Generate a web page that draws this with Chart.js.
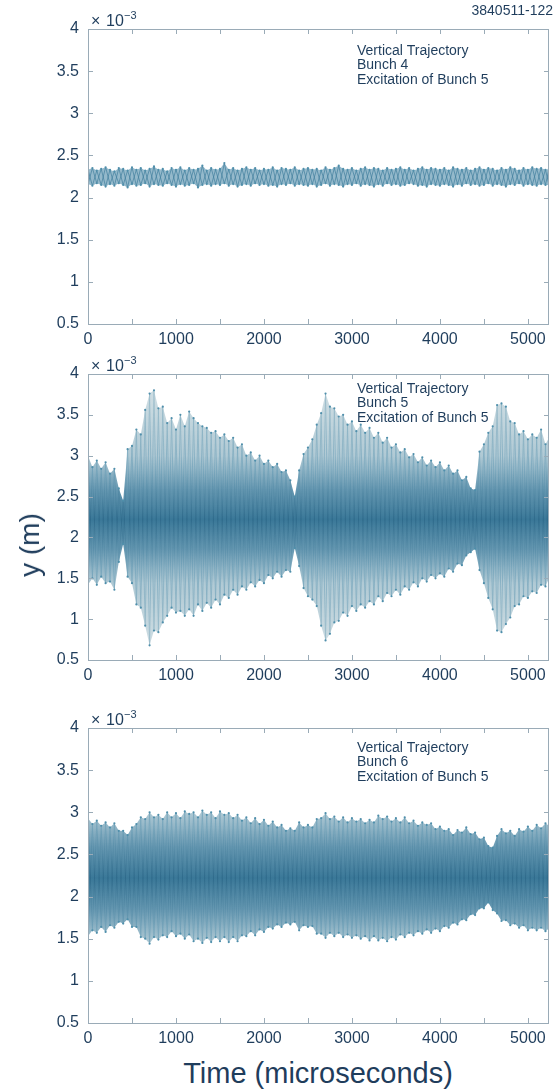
<!DOCTYPE html>
<html>
<head>
<meta charset="utf-8">
<script src="https://cdn.jsdelivr.net/npm/chart.js@4.4.1/dist/chart.umd.min.js"></script>
<style>
  html, body { margin: 0; padding: 0; background: #fff; }
  #page { position: relative; width: 557px; height: 1090px; overflow: hidden; font-family: "Liberation Sans", Arial, sans-serif; color: #1f3d5c; }
  canvas { position: absolute; left: 0; }
  .lbl { position: absolute; white-space: nowrap; z-index: 2; }
</style>
</head>
<body>
<div id="page">
  <canvas id="panel1" width="557" height="345" style="top:9px"></canvas>
  <canvas id="panel2" width="557" height="336" style="top:354px"></canvas>
  <canvas id="panel3" width="557" height="345" style="top:708px"></canvas>
  <div class="lbl" style="right:4px; top:2px; font-size:14px;">3840511-122</div>
  <div class="lbl" style="left:30px; top:545px; font-size:28px; transform:translate(-50%,-50%) rotate(-90deg);">y (m)</div>
  <div class="lbl" style="left:318px; top:1073px; font-size:29px; transform:translate(-50%,-50%);">Time (microseconds)</div>
</div>
<script>
// sample times (microseconds)
const TIME = [
  0, 50, 100, 150, 200, 250, 300, 350, 400, 450,
  500, 550, 600, 650, 700, 750, 800, 850, 900, 950,
  1000, 1050, 1100, 1150, 1200, 1250, 1300, 1350, 1400, 1450,
  1500, 1550, 1600, 1650, 1700, 1750, 1800, 1850, 1900, 1950,
  2000, 2050, 2100, 2150, 2200, 2250, 2300, 2350, 2400, 2450,
  2500, 2550, 2600, 2650, 2700, 2750, 2800, 2850, 2900, 2950,
  3000, 3050, 3100, 3150, 3200, 3250, 3300, 3350, 3400, 3450,
  3500, 3550, 3600, 3650, 3700, 3750, 3800, 3850, 3900, 3950,
  4000, 4050, 4100, 4150, 4200, 4250, 4300, 4350, 4400, 4450,
  4500, 4550, 4600, 4650, 4700, 4750, 4800, 4850, 4900, 4950,
  5000, 5050, 5100, 5150, 5200, 5240
];
const X_TICKS = [0, 1000, 2000, 3000, 4000, 5000];
const Y_TICKS = [0.5, 1, 1.5, 2, 2.5, 3, 3.5, 4];

// envelope of the trajectory, y in units of 1e-3 m
const BUNCH4_UPPER = [
  2.33, 2.35, 2.32, 2.34, 2.36, 2.33, 2.31, 2.35, 2.34, 2.32,
  2.36, 2.33, 2.35, 2.32, 2.34, 2.37, 2.33, 2.34, 2.31, 2.35,
  2.33, 2.36, 2.32, 2.35, 2.33, 2.34, 2.38, 2.32, 2.35, 2.33,
  2.34, 2.41, 2.33, 2.35, 2.32, 2.34, 2.36, 2.33, 2.35, 2.32,
  2.34, 2.33, 2.36, 2.32, 2.35, 2.34, 2.33, 2.36, 2.32, 2.34,
  2.35, 2.33, 2.34, 2.32, 2.36, 2.33, 2.35, 2.38, 2.34, 2.33,
  2.35, 2.32, 2.34, 2.36, 2.33, 2.35, 2.34, 2.32, 2.35, 2.33,
  2.34, 2.36, 2.33, 2.35, 2.32, 2.34, 2.36, 2.33, 2.35, 2.34,
  2.33, 2.35, 2.32, 2.36, 2.34, 2.33, 2.35, 2.32, 2.34, 2.36,
  2.33, 2.35, 2.34, 2.32, 2.35, 2.33, 2.36, 2.34, 2.32, 2.35,
  2.33, 2.36, 2.34, 2.35, 2.33, 2.34
];
const BUNCH4_LOWER = [
  2.16, 2.14, 2.17, 2.15, 2.13, 2.16, 2.14, 2.17, 2.15, 2.12,
  2.16, 2.14, 2.15, 2.17, 2.13, 2.16, 2.15, 2.14, 2.17, 2.15,
  2.13, 2.16, 2.14, 2.15, 2.17, 2.12, 2.15, 2.16, 2.14, 2.16,
  2.15, 2.17, 2.14, 2.16, 2.13, 2.15, 2.16, 2.14, 2.17, 2.15,
  2.16, 2.14, 2.15, 2.13, 2.16, 2.15, 2.17, 2.14, 2.16, 2.15,
  2.14, 2.16, 2.13, 2.15, 2.17, 2.14, 2.16, 2.15, 2.13, 2.16,
  2.15, 2.17, 2.14, 2.16, 2.15, 2.13, 2.16, 2.14, 2.17, 2.15,
  2.16, 2.14, 2.15, 2.17, 2.16, 2.14, 2.15, 2.13, 2.16, 2.15,
  2.14, 2.16, 2.15, 2.13, 2.16, 2.14, 2.17, 2.15, 2.16, 2.14,
  2.15, 2.17, 2.14, 2.16, 2.15, 2.13, 2.16, 2.15, 2.17, 2.14,
  2.16, 2.15, 2.14, 2.16, 2.15, 2.15
];

const BUNCH5_UPPER = [
  3.00, 2.86, 2.94, 2.84, 2.92, 2.78, 2.84, 2.60, 2.45, 3.08,
  3.12, 3.32, 3.26, 3.56, 3.76, 3.80, 3.58, 3.60, 3.40, 3.46,
  3.32, 3.50, 3.36, 3.54, 3.46, 3.40, 3.36, 3.34, 3.28, 3.30,
  3.22, 3.26, 3.18, 3.22, 3.10, 3.14, 3.00, 3.04, 2.94, 3.00,
  2.90, 2.94, 2.86, 2.90, 2.80, 2.82, 2.70, 2.50, 2.82, 3.02,
  3.10, 3.20, 3.38, 3.52, 3.76, 3.60, 3.58, 3.48, 3.50, 3.38,
  3.42, 3.30, 3.38, 3.28, 3.34, 3.22, 3.28, 3.16, 3.22, 3.10,
  3.14, 3.04, 3.08, 2.98, 3.02, 2.92, 2.98, 2.88, 2.94, 2.86,
  2.92, 2.82, 2.88, 2.78, 2.82, 2.70, 2.74, 2.60, 2.58, 3.05,
  3.14, 3.28, 3.36, 3.62, 3.64, 3.60, 3.42, 3.40, 3.26, 3.30,
  3.20, 3.26, 3.22, 3.32, 3.14, 3.22
];
const BUNCH5_LOWER = [
  1.42, 1.50, 1.42, 1.52, 1.44, 1.46, 1.36, 1.70, 1.92, 1.52,
  1.44, 1.18, 1.14, 0.92, 0.68, 0.86, 0.84, 0.96, 1.04, 1.14,
  1.08, 1.10, 1.04, 1.12, 1.04, 1.18, 1.10, 1.20, 1.14, 1.24,
  1.18, 1.30, 1.26, 1.36, 1.30, 1.40, 1.36, 1.45, 1.40, 1.48,
  1.44, 1.54, 1.50, 1.58, 1.52, 1.60, 1.58, 1.87, 1.65, 1.38,
  1.28, 1.24, 1.16, 0.92, 0.74, 0.82, 0.96, 0.98, 1.08, 1.04,
  1.16, 1.10, 1.18, 1.14, 1.22, 1.18, 1.28, 1.22, 1.32, 1.28,
  1.36, 1.30, 1.40, 1.36, 1.45, 1.40, 1.50, 1.46, 1.54, 1.50,
  1.56, 1.52, 1.62, 1.58, 1.68, 1.66, 1.78, 1.82, 1.86, 1.60,
  1.44, 1.26, 1.12, 0.86, 0.84, 0.94, 1.02, 1.16, 1.18, 1.28,
  1.26, 1.34, 1.32, 1.42, 1.40, 1.50
];

const BUNCH6_UPPER = [
  2.93, 2.86, 2.90, 2.84, 2.88, 2.82, 2.87, 2.78, 2.78, 2.73,
  2.82, 2.86, 2.94, 2.92, 3.00, 2.94, 2.97, 2.92, 3.00, 2.94,
  2.99, 2.93, 3.01, 2.98, 3.00, 2.94, 3.02, 2.97, 3.00, 2.93,
  3.01, 2.97, 2.99, 2.93, 2.97, 2.90, 2.94, 2.87, 2.93, 2.86,
  2.91, 2.84, 2.89, 2.82, 2.85, 2.78, 2.81, 2.78, 2.88, 2.82,
  2.85, 2.82, 2.92, 2.93, 2.99, 2.92, 2.95, 2.89, 2.94, 2.88,
  2.93, 2.89, 2.92, 2.87, 2.91, 2.88, 2.96, 2.92, 2.95, 2.89,
  2.93, 2.88, 2.94, 2.87, 2.90, 2.84, 2.88, 2.85, 2.87, 2.80,
  2.83, 2.78, 2.80, 2.73, 2.79, 2.76, 2.82, 2.74, 2.76, 2.68,
  2.70, 2.60, 2.58, 2.72, 2.80, 2.75, 2.78, 2.72, 2.80, 2.77,
  2.83, 2.78, 2.85, 2.81, 2.87, 2.84
];
const BUNCH6_LOWER = [
  1.53, 1.60, 1.57, 1.64, 1.58, 1.66, 1.63, 1.70, 1.68, 1.73,
  1.64, 1.64, 1.52, 1.50, 1.44, 1.52, 1.49, 1.54, 1.52, 1.59,
  1.53, 1.56, 1.50, 1.55, 1.47, 1.50, 1.45, 1.51, 1.46, 1.52,
  1.47, 1.52, 1.46, 1.52, 1.47, 1.54, 1.53, 1.59, 1.54, 1.61,
  1.58, 1.64, 1.62, 1.67, 1.64, 1.69, 1.67, 1.70, 1.60, 1.66,
  1.64, 1.65, 1.56, 1.56, 1.51, 1.57, 1.53, 1.57, 1.52, 1.55,
  1.51, 1.54, 1.50, 1.53, 1.48, 1.53, 1.48, 1.51, 1.47, 1.52,
  1.49, 1.55, 1.52, 1.57, 1.54, 1.59, 1.56, 1.61, 1.57, 1.62,
  1.59, 1.65, 1.63, 1.69, 1.67, 1.73, 1.72, 1.79, 1.78, 1.86,
  1.86, 1.93, 1.84, 1.80, 1.71, 1.72, 1.66, 1.68, 1.63, 1.66,
  1.60, 1.63, 1.60, 1.63, 1.59, 1.62
];

const X_MIN = 0;
const X_MAX = 5240;
const Y_MIN = 0.5;
const Y_MAX = 4;
const PANEL_TEXT = [
  ["Vertical Trajectory", "Bunch 4", "Excitation of Bunch 5"],
  ["Vertical Trajectory", "Bunch 5", "Excitation of Bunch 5"],
  ["Vertical Trajectory", "Bunch 6", "Excitation of Bunch 5"],
];

const TEXT_COLOR = "#1f3d5c";
const FRAME_COLOR = "#9aabb7";
const FONT = "'Liberation Sans', Arial, sans-serif";

function pts(values) {
  return TIME.map((t, i) => ({ x: t, y: values[i] }));
}

// alternate between the read upper / lower values
function zigzag(upper, lower, phase) {
  return TIME.map((t, i) => ({ x: t, y: (i + phase) % 2 === 0 ? upper[i] : lower[i] }));
}

function bandGradient(chart, kind, flat) {
  const area = chart.chartArea;
  if (!area) return "rgba(80,140,170,0.6)";
  if (flat) return kind === "fill" ? "rgba(112,162,186,0.75)" : "rgba(62,125,156,0.85)";
  const y = chart.scales.y;
  const g = chart.ctx.createLinearGradient(0, y.getPixelForValue(3.72), 0, y.getPixelForValue(0.72));
  if (kind === "fill") {
    g.addColorStop(0, "rgba(196,214,221,0.85)");
    g.addColorStop(0.24, "rgba(168,196,208,0.9)");
    g.addColorStop(0.38, "rgba(92,145,172,0.95)");
    g.addColorStop(0.5, "rgba(58,120,152,1)");
    g.addColorStop(0.62, "rgba(92,145,172,0.95)");
    g.addColorStop(0.76, "rgba(168,196,208,0.9)");
    g.addColorStop(1, "rgba(196,214,221,0.85)");
  } else {
    g.addColorStop(0, "rgba(150,185,200,0.8)");
    g.addColorStop(0.3, "rgba(110,160,184,0.8)");
    g.addColorStop(0.5, "rgba(45,105,138,0.9)");
    g.addColorStop(0.7, "rgba(110,160,184,0.8)");
    g.addColorStop(1, "rgba(150,185,200,0.8)");
  }
  return g;
}

// frame with inside ticks, exponent and the panel text
const panelDecor = {
  id: "panelDecor",
  afterDraw(chart, args, opts) {
    const { ctx, chartArea: a, scales } = chart;
    ctx.save();
    ctx.strokeStyle = FRAME_COLOR;
    ctx.lineWidth = 1;
    ctx.strokeRect(a.left + 0.5, a.top + 0.5, a.right - a.left - 1, a.bottom - a.top);
    ctx.beginPath();
    for (let v = X_MIN + 500; v < X_MAX; v += 500) {
      const px = Math.round(scales.x.getPixelForValue(v)) + 0.5;
      ctx.moveTo(px, a.bottom); ctx.lineTo(px, a.bottom - 5);
      ctx.moveTo(px, a.top); ctx.lineTo(px, a.top + 5);
    }
    for (let v = Y_MIN + 0.5; v < Y_MAX; v += 0.5) {
      const py = Math.round(scales.y.getPixelForValue(v)) + 0.5;
      ctx.moveTo(a.left, py); ctx.lineTo(a.left + 5, py);
      ctx.moveTo(a.right, py); ctx.lineTo(a.right - 5, py);
    }
    ctx.stroke();

    ctx.fillStyle = TEXT_COLOR;
    ctx.textBaseline = "alphabetic";
    ctx.textAlign = "left";
    ctx.font = "16px " + FONT;
    ctx.fillText("\u00d7", a.left + 3, a.top - 3);
    ctx.fillText("10", a.left + 18, a.top - 3);
    ctx.font = "11px " + FONT;
    ctx.fillText("\u22123", a.left + 36, a.top - 10);

    ctx.font = "14px " + FONT;
    ctx.textBaseline = "middle";
    opts.lines.forEach((s, i) => {
      ctx.fillText(s, 357, a.top + opts.offset + i * 14.5);
    });
    ctx.restore();
  }
};

function makePanel(canvasId, upper, lower, lines, offset, flat) {
  const el = document.getElementById(canvasId);
  return new Chart(el, {
    type: "line",
    data: {
      datasets: [
        {
          data: pts(upper), fill: "+1",
          backgroundColor: (c) => bandGradient(c.chart, "fill", flat),
          borderColor: "rgba(0,0,0,0)", borderWidth: 1, pointRadius: 0,
        },
        {
          data: pts(lower), fill: false,
          borderColor: "rgba(0,0,0,0)", borderWidth: 1, pointRadius: 0,
        },
        {
          data: zigzag(upper, lower, 0), fill: false,
          borderColor: (c) => bandGradient(c.chart, "line", flat), borderWidth: 0.8,
          pointRadius: 1.1, pointBorderWidth: 0, pointBackgroundColor: "#4f8fab",
        },
        {
          data: zigzag(upper, lower, 1), fill: false,
          borderColor: (c) => bandGradient(c.chart, "line", flat), borderWidth: 0.8,
          pointRadius: 1.1, pointBorderWidth: 0, pointBackgroundColor: "#4f8fab",
        },
      ],
    },
    options: {
      responsive: false, animation: false,
      layout: { padding: { top: 20, right: 8, left: 0, bottom: 0 } },
      elements: { line: { tension: 0 } },
      plugins: {
        legend: { display: false },
        tooltip: { enabled: false },
        filler: { drawTime: "beforeDatasetsDraw" },
        panelDecor: { lines: lines, offset: offset },
      },
      scales: {
        x: {
          type: "linear", min: X_MIN, max: X_MAX,
          grid: { display: false, drawTicks: false }, border: { display: false },
          ticks: {
            autoSkip: false, maxRotation: 0,
            padding: 6, color: TEXT_COLOR, font: { size: 16, family: FONT },
            callback: (v) => String(v),
          },
          afterBuildTicks: (s) => { s.ticks = X_TICKS.map((v) => ({ value: v })); },
          afterFit: (s) => { s.height = 30; },
        },
        y: {
          min: Y_MIN, max: Y_MAX,
          grid: { display: false, drawTicks: false }, border: { display: false },
          ticks: {
            autoSkip: false,
            padding: 9, color: TEXT_COLOR, font: { size: 16, family: FONT },
            callback: (v) => String(v),
          },
          afterBuildTicks: (s) => { s.ticks = Y_TICKS.map((v) => ({ value: v })); },
          afterFit: (s) => { s.width = 88; },
        },
      },
    },
    plugins: [panelDecor],
  });
}

makePanel("panel1", BUNCH4_UPPER, BUNCH4_LOWER, PANEL_TEXT[0], 22, true);
makePanel("panel2", BUNCH5_UPPER, BUNCH5_LOWER, PANEL_TEXT[1], 15, false);
makePanel("panel3", BUNCH6_UPPER, BUNCH6_LOWER, PANEL_TEXT[2], 20, false);
</script>
</body>
</html>
